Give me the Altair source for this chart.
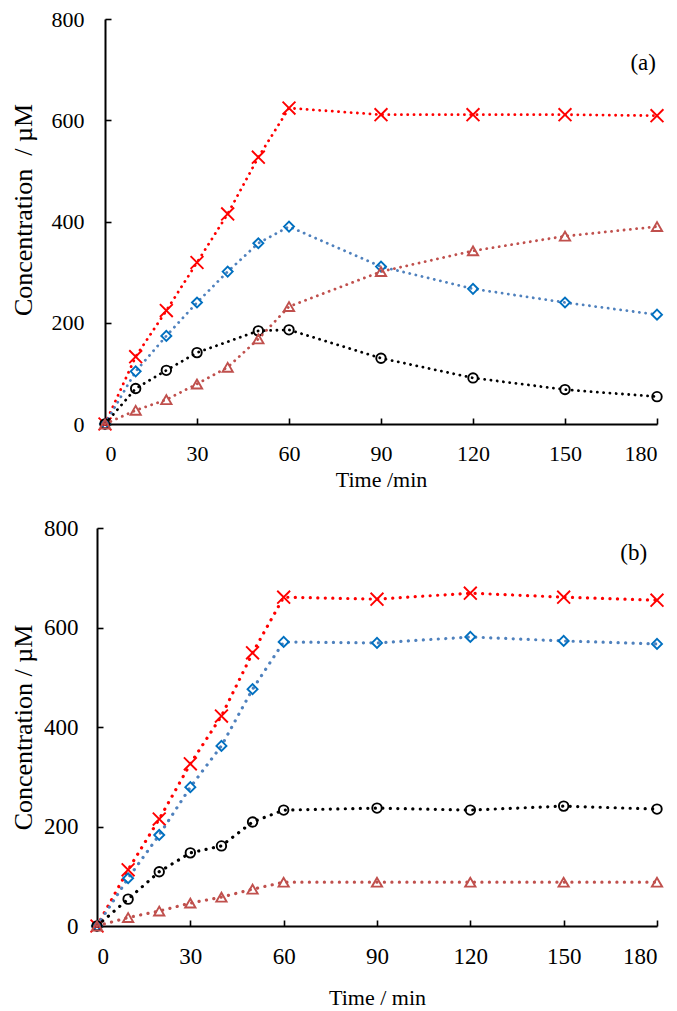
import altair as alt
import pandas as pd

# ---------------- data ----------------
time = [0, 10, 20, 30, 40, 50, 60, 90, 120, 150, 180]

a_red = [0, 133, 224, 319, 415, 527, 624, 611, 611, 611, 609]
a_blue = [0, 104, 174, 240, 301, 357, 390, 311, 267, 240, 216]
a_black = [0, 70, 106, 141, None, 184, 186, 130, 91, 68, 54]
a_tri = [0, 27, 48, 79, 112, 168, 232, 301, 342, 371, 390]

b_red = [0, 113, 215, 326, 422, 549, 661, 657, 669, 661, 655]
b_blue = [0, 96, 183, 279, 362, 476, 571, 569, 581, 573, 567]
b_black = [0, 54, 109, 147, 161, 209, 233, 237, 233, 241, 235]
b_tri = [0, 17, 30, 46, 58, 74, 88, 88, 88, 88, 88]

x_ticks = [0, 30, 60, 90, 120, 150, 180]
y_ticks = [0, 200, 400, 600, 800]

panel_labels = ["(a)", "(b)"]
label_x = [175.5, 172.5]
label_y = [713, 750]

x_titles = ["Time /min", "Time / min"]
y_titles = ["Concentration\u00a0\u00a0/ µM", "Concentration / µM"]

FONT = "Liberation Serif"
TOP = 19            # page y of the top panel's upper edge
W, H = 560, 926 - TOP
SVG_H = 1011 - 8

# series styling: (line colour, marker colour, shape, size)
X_SHAPE = "M-1,-1L1,1M-1,1L1,-1"
styles = [
    ("#FF0000", "#FF0000", X_SHAPE, 165),
    ("#4F81BD", "#0070C0", "diamond", 100),
    ("#000000", "#000000", "circle", 90),
    ("#C0504D", "#C0504D", "triangle-up", 105),
]

top_base = 424 - TOP
bot_top = 528 - TOP
panels = [
    dict(series=[a_red, a_blue, a_black, a_tri], xr=[8, W], yr=[top_base, 0],
         xoff=-(H - top_base), yoff=-8, txoff=-top_base, tyoff=-(W - 8),
         lab=22, lpad_x=19, lpad_y=21, tpad_x=5, titleX=-69, titleY=top_base / 2 - 12,
         dash=[0.1, 6.2], sw=2.8),
    dict(series=[b_red, b_blue, b_black, b_tri], xr=[0, W], yr=[H, bot_top],
         xoff=0, yoff=0, txoff=-H, tyoff=-W,
         lab=23, lpad_x=19, lpad_y=19, tpad_x=19, titleX=-61, titleY=(H + bot_top) / 2,
         dash=[0.1, 7.4], sw=3.2),
]

layers = []
for pi, p in enumerate(panels):
    xs = alt.Scale(domain=[0, 180], range=p["xr"], nice=False, zero=False)
    ys = alt.Scale(domain=[0, 800], range=p["yr"], nice=False, zero=False)

    for vals, (lc, mc, shp, sz) in zip(p["series"], styles):
        df = pd.DataFrame([(t, v) for t, v in zip(time, vals) if v is not None],
                          columns=["t", "c"])
        base = alt.Chart(df)
        line = base.mark_line(color=lc, strokeWidth=p["sw"], strokeDash=p["dash"],
                              strokeCap="round").encode(
            x=alt.X("t:Q", scale=xs, axis=None),
            y=alt.Y("c:Q", scale=ys, axis=None),
        )
        pts = base.mark_point(filled=False, color=mc, shape=shp, size=sz,
                              strokeWidth=1.9, opacity=1).encode(
            x=alt.X("t:Q", scale=xs, axis=None),
            y=alt.Y("c:Q", scale=ys, axis=None),
        )
        layers += [line, pts]

    axis_df = pd.DataFrame({"t": x_ticks, "c": [0] * len(x_ticks)})
    main_axes = alt.Chart(axis_df).mark_point(opacity=0).encode(
        x=alt.X("t:Q", scale=xs, axis=alt.Axis(
            orient="bottom", offset=p["xoff"], values=x_ticks, ticks=False, tickSize=0,
            domain=True, domainColor="black", domainWidth=2, grid=False,
            labelFont=FONT, labelFontSize=p["lab"], labelColor="black",
            labelPadding=p["lpad_x"], title=x_titles[pi], titleFont=FONT,
            titleFontSize=22, titleFontWeight="normal", titleColor="black",
            titlePadding=p["tpad_x"])),
        y=alt.Y("c:Q", scale=ys, axis=alt.Axis(
            orient="left", offset=p["yoff"], values=y_ticks, ticks=False, tickSize=0,
            domain=True, domainColor="black", domainWidth=2, grid=False,
            labelFont=FONT, labelFontSize=p["lab"], labelColor="black",
            labelPadding=p["lpad_y"], title=y_titles[pi], titleFont=FONT,
            titleFontSize=26, titleFontWeight="normal", titleColor="black",
            titleX=p["titleX"], titleY=p["titleY"], titleBaseline="bottom",
            titleAngle=270)),
    )
    tick_axes = alt.Chart(axis_df).mark_point(opacity=0).encode(
        x=alt.X("t:Q", scale=xs, axis=alt.Axis(
            orient="top", offset=p["txoff"], values=x_ticks, ticks=True, tickSize=6,
            tickWidth=1.6, tickColor="black", labels=False, domain=False, grid=False,
            title=None)),
        y=alt.Y("c:Q", scale=ys, axis=alt.Axis(
            orient="right", offset=p["tyoff"], values=y_ticks, ticks=True, tickSize=6,
            tickWidth=1.6, tickColor="black", labels=False, domain=False, grid=False,
            title=None)),
    )
    lab_df = pd.DataFrame({"t": [label_x[pi]], "c": [label_y[pi]], "s": [panel_labels[pi]]})
    label = alt.Chart(lab_df).mark_text(font=FONT, fontSize=23, color="black").encode(
        x=alt.X("t:Q", scale=xs, axis=None),
        y=alt.Y("c:Q", scale=ys, axis=None),
        text="s:N",
    )
    layers += [main_axes, tick_axes, label]

chart = alt.layer(*layers).resolve_scale(
    x="independent", y="independent"
).properties(
    width=W, height=H,
    autosize=alt.AutoSizeParams(type="none"),
    padding={"left": 89, "top": TOP - 8, "right": 12, "bottom": SVG_H - (TOP - 8) - H},
).configure_view(stroke="transparent")

chart.save("out.html", embed_options={"renderer": "svg", "actions": False})
